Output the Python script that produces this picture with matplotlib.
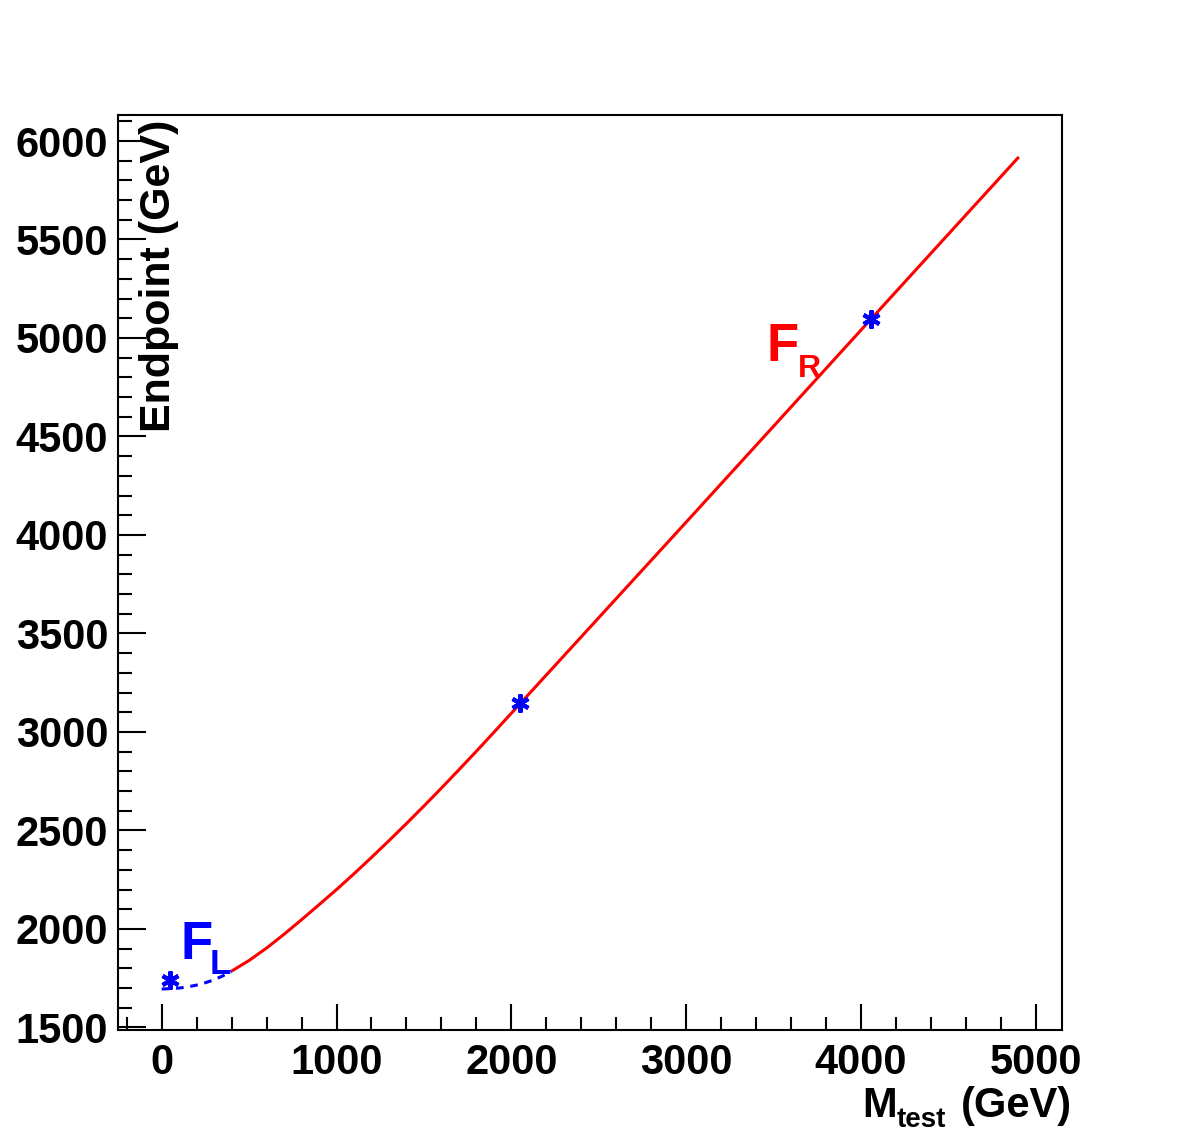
import numpy as np
import matplotlib
matplotlib.use("Agg")
import matplotlib.pyplot as plt
from matplotlib.ticker import MultipleLocator

# ---- data ----
fr_mass = [400, 500, 600, 700, 800, 900, 1000, 1100, 1200, 1300, 1400, 1500, 1600,
           1700, 1800, 1900, 2000, 2500, 3000, 3500, 4000, 4500, 4903]
fr_endpoint = [1786, 1840, 1903, 1973, 2047, 2123, 2200, 2280, 2363, 2448, 2535, 2624,
               2715, 2808, 2902, 2998, 3095, 3580, 4065, 4552, 5040, 5527, 5919]
fl_mass = [0, 50, 100, 150, 200, 250, 300, 350, 400]
fl_endpoint = [1695, 1697, 1700, 1706, 1715, 1727, 1742, 1762, 1786]
star_mass = [48, 2051, 4057]
star_endpoint = [1741, 3147, 5096]

xlim = (-250, 5150)
ylim = (1487, 6132)

plt.rcParams['font.family'] = ['Liberation Sans', 'DejaVu Sans']
plt.rcParams['font.weight'] = 'bold'

W, H = 1182, 1146
fig = plt.figure(figsize=(W / 100, H / 100), dpi=100)
ax = fig.add_axes([118 / W, 1 - 1030 / H, (1062 - 118) / W, (1030 - 115) / H])

ax.plot(fr_mass, fr_endpoint, color='#ff0000', lw=2.2, solid_capstyle='butt')
ax.plot(fl_mass, fl_endpoint, color='#0000ff', lw=2.2, linestyle=(0, (2.5, 2.2)))
ax.plot(star_mass, star_endpoint, linestyle='none', marker=(6, 2, 0),
        markersize=13, markeredgewidth=3, color='#0000ff')

ax.set_xlim(*xlim)
ax.set_ylim(*ylim)
ax.xaxis.set_major_locator(MultipleLocator(1000))
ax.xaxis.set_minor_locator(MultipleLocator(200))
ax.yaxis.set_major_locator(MultipleLocator(500))
ax.yaxis.set_minor_locator(MultipleLocator(100))

ax.tick_params(which='both', direction='in', top=False, right=False, width=1.5,
               labelsize=30, color='black')
ax.tick_params(axis='x', which='major', length=19, pad=9)
ax.tick_params(axis='x', which='minor', length=9.5)
ax.tick_params(axis='y', which='major', length=20, pad=7)
ax.tick_params(axis='y', which='minor', length=10)
for lab in ax.get_xticklabels() + ax.get_yticklabels():
    lab.set_fontweight('bold')
for sp in ax.spines.values():
    sp.set_linewidth(1.5)

# axis titles
fig.text(159 / W, 1 - 120 / H, 'Endpoint (GeV)', rotation=90, ha='center', va='top',
         fontsize=31, fontweight='bold')
fig.text(862 / W, 1 - 1117 / H, 'M', ha='left', va='baseline', fontsize=30, fontweight='bold')
fig.text(897 / W, 1 - 1127 / H, 'test', ha='left', va='baseline', fontsize=20, fontweight='bold')
fig.text(1072 / W, 1 - 1117 / H, '(GeV)', ha='right', va='baseline', fontsize=30,
         fontweight='bold')

# curve labels
fig.text(766 / W, 1 - 361 / H, 'F', color='#ff0000', fontsize=38, fontweight='bold',
         ha='left', va='baseline')
fig.text(798 / W, 1 - 377 / H, 'R', color='#ff0000', fontsize=23, fontweight='bold',
         ha='left', va='baseline')
fig.text(180 / W, 1 - 959 / H, 'F', color='#0000ff', fontsize=38, fontweight='bold',
         ha='left', va='baseline')
fig.text(210 / W, 1 - 974 / H, 'L', color='#0000ff', fontsize=25, fontweight='bold',
         ha='left', va='baseline')

fig.savefig('out.png', dpi=100)
